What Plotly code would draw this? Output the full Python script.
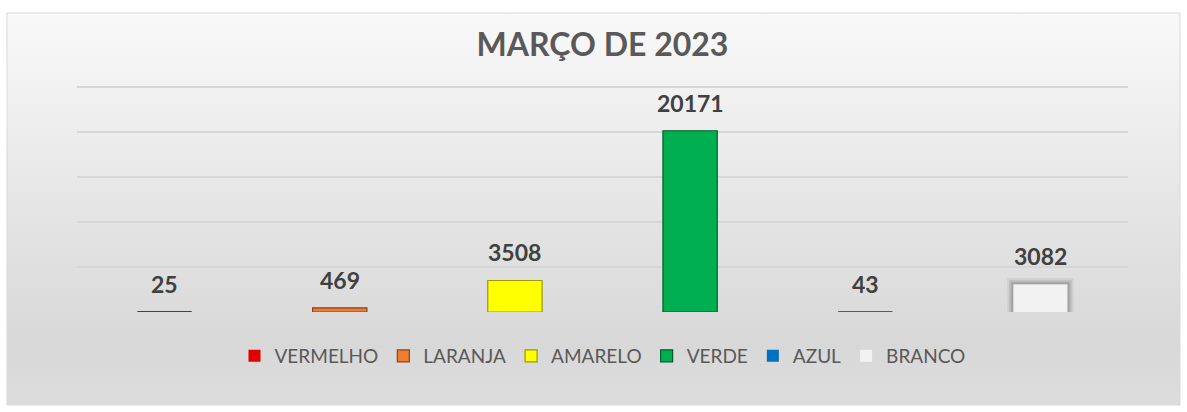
import base64
import plotly.graph_objects as go

title = "MARÇO DE 2023"
categories = ["VERMELHO", "LARANJA", "AMARELO", "VERDE", "AZUL", "BRANCO"]
values = [25, 469, 3508, 20171, 43, 3082]
colors = ["#e00000", "#ed7d31", "#ffff00", "#00b050", "#0070c0", "#f2f2f2"]
edge_colors = ["#900000", "#8a4518", "#9a9a00", "#005c28", "#00457a", "#f2f2f2"]
y_range = [0, 25150]
y_step = 5000

W, H = 1187, 412
ML, MR, MT, MB = 77, 59, 86, 100
pw, ph = W - ML - MR, H - MT - MB
FONT = "Lato, Open Sans, sans-serif"

fig = go.Figure()

# soft shadow behind the white bar
wval = values[categories.index("BRANCO")]
for lw, a in [(12, 0.12), (8, 0.2), (4, 0.3)]:
    fig.add_trace(go.Bar(
        x=["BRANCO"], y=[wval],
        marker=dict(color="rgba(140,140,140,0.5)", line=dict(color=f"rgba(110,110,110,{a})", width=lw)),
        width=0.31, showlegend=False, hoverinfo="skip",
    ))

for cat, val, col, edge in zip(categories, values, colors, edge_colors):
    lw = 0 if val < 100 or cat == "BRANCO" else 1.2
    fig.add_trace(go.Bar(
        x=[cat], y=[val], name=cat,
        marker=dict(color=col, line=dict(color=edge, width=lw)),
        width=0.31,
        hoverinfo="x+y",
    ))

for cat, val in zip(categories, values):
    fig.add_annotation(
        x=cat, y=val, text=f"<b>{val}</b>", showarrow=False,
        yanchor="bottom", yshift=12,
        font=dict(family=FONT, size=23, color="#404040"),
    )

svg = (
    '<svg xmlns="http://www.w3.org/2000/svg" width="100" height="100" preserveAspectRatio="none">'
    '<defs><linearGradient id="g" x1="0" y1="0" x2="0" y2="1">'
    '<stop offset="0" stop-color="#f9f9f9"/>'
    '<stop offset="0.55" stop-color="#e3e3e3"/>'
    '<stop offset="0.85" stop-color="#d8d8d8"/>'
    '<stop offset="1" stop-color="#dddddd"/>'
    '</linearGradient></defs>'
    '<rect x="0" y="0" width="100" height="100" fill="url(#g)"/></svg>'
)
src = "data:image/svg+xml;base64," + base64.b64encode(svg.encode()).decode()

bx0, bx1 = (7 - ML) / pw, (1180 - ML) / pw
by0, by1 = (MT + ph - 405) / ph, (MT + ph - 13) / ph
fig.add_layout_image(
    source=src, xref="paper", yref="paper", x=bx0, y=by1,
    sizex=bx1 - bx0, sizey=by1 - by0, sizing="stretch",
    xanchor="left", yanchor="top", layer="below",
)
fig.add_shape(
    type="rect", xref="paper", yref="paper", x0=bx0, x1=bx1, y0=by0, y1=by1,
    line=dict(color="#d9d9d9", width=1), fillcolor="rgba(0,0,0,0)", layer="above",
)

fig.update_layout(
    width=W, height=H,
    margin=dict(l=ML, r=MR, t=MT, b=MB),
    paper_bgcolor="white",
    plot_bgcolor="rgba(0,0,0,0)",
    barmode="overlay",
    title=dict(
        text=f"<b>{title}</b>", x=0.5, xref="paper", xanchor="center",
        y=1 - 45 / H, yanchor="middle",
        font=dict(family=FONT, size=32, color="#595959"),
    ),
    showlegend=True,
    legend=dict(
        orientation="h", x=0.5, xanchor="center", xref="paper",
        y=-(356 - MT - ph) / ph, yanchor="middle",
        font=dict(family=FONT, size=19, color="#595959"),
        bgcolor="rgba(0,0,0,0)", itemwidth=30, traceorder="normal",
    ),
    xaxis=dict(showticklabels=False, showgrid=False, zeroline=False, showline=False,
               categoryorder="array", categoryarray=categories, ticks=""),
    yaxis=dict(range=y_range, dtick=y_step, showticklabels=False, showgrid=True,
               gridcolor="#d6d6d6", gridwidth=1.5, zeroline=False, showline=False, ticks=""),
)

fig.write_html("out.html", config={"displayModeBar": False},
               post_script="document.body.style.margin='0';")
